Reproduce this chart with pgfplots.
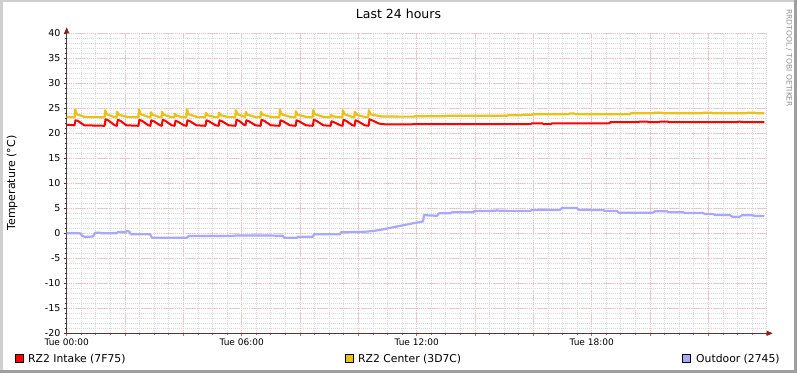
\documentclass[border=0pt]{standalone}
\usepackage{fontspec}
\setmainfont{DejaVu Sans}
\usepackage{pgfplots}
\pgfplotsset{compat=1.18}
\usetikzlibrary{arrows.meta}
\definecolor{rzred}{HTML}{FF0000}
\definecolor{rzyel}{HTML}{EAC117}
\definecolor{rzblue}{HTML}{A8A8FF}
\definecolor{mgrid}{HTML}{F2BABA}
\definecolor{mingrid}{HTML}{D9D9D9}
\definecolor{axiscol}{HTML}{4A3A3A}
\definecolor{arrowcol}{HTML}{8B1F1F}
\definecolor{shadea}{HTML}{CFCFCF}
\definecolor{shadeb}{HTML}{9F9F9F}
\begin{document}
\begin{tikzpicture}[x=1pt,y=1pt]
\useasboundingbox (0,0) rectangle (797,373);
\fill[white] (0,0) rectangle (797,373);
\fill[shadea] (0,0) rectangle (2.5,373);
\fill[shadea] (0,370.5) rectangle (797,373);
\fill[shadeb] (794,0) rectangle (797,373);
\fill[shadeb] (0,0) rectangle (797,3);
\begin{axis}[
  at={(66.7pt,39.7pt)}, anchor=south west,
  scale only axis, width=700pt, height=300pt,
  xmin=0, xmax=24, ymin=-20, ymax=40,
  axis lines=left,
  x axis line style={draw=axiscol, line width=0.8pt, -{Triangle[length=6pt,width=5pt,color=arrowcol]}, shorten >=-6pt},
  y axis line style={draw=axiscol, line width=0.8pt, -{Triangle[length=6pt,width=5pt,color=arrowcol]}, shorten >=-6pt},
  xtick={0,2,...,22},
  xticklabels={Tue 00:00,,,Tue 06:00,,,Tue 12:00,,,Tue 18:00,,},
  minor xtick={0,0.5,...,24},
  ytick={-20,-15,...,40},
  minor ytick={-20,-19,...,40},
  grid=both,
  major grid style={draw=mgrid, dash pattern=on 1pt off 1.2pt, line width=0.8pt},
  minor grid style={draw=mingrid, dash pattern=on 1pt off 1pt, line width=0.8pt},
  tick align=outside,
  major tick length=3pt, minor tick length=2pt,
  x tick style={draw=red!70, line width=0.8pt},
  y tick style={draw=axiscol, line width=0.8pt},
  minor tick style={draw=gray!60, line width=0.6pt},
  /pgf/number format/assume math mode=true,
  yticklabel style={font=\fontsize{9.5}{10}\selectfont, inner sep=0pt, xshift=-3pt},
  xticklabel style={font=\fontsize{9}{10}\selectfont, inner sep=0pt, yshift=-2pt},
  clip=false,
]
% RZ2 Intake
\addplot[rzred, line width=2pt, line join=round] coordinates {
(0.00,21.7)(0.27,21.6)(0.30,22.6)(0.38,22.5)(0.60,21.6)(1.30,21.5)
(1.33,22.8)(1.42,22.6)(1.65,21.6)(1.72,21.5)
(1.75,22.7)(1.84,22.5)(2.05,21.6)(2.46,21.5)
(2.49,22.7)(2.58,22.5)(2.80,21.6)(2.87,21.5)
(2.90,22.6)(2.99,22.4)(3.20,21.6)(3.26,21.5)
(3.29,22.7)(3.38,22.5)(3.60,21.6)(3.70,21.5)
(3.73,22.5)(3.82,22.3)(4.02,21.6)(4.11,21.5)
(4.14,22.6)(4.23,22.4)(4.45,21.6)(4.76,21.5)
(4.79,22.6)(4.88,22.4)(5.10,21.6)(5.21,21.5)
(5.24,22.6)(5.33,22.4)(5.55,21.6)(5.79,21.5)
(5.82,22.7)(5.91,22.5)(6.08,21.7)(6.13,21.6)
(6.16,22.6)(6.25,22.4)(6.47,21.6)(6.65,21.5)
(6.68,22.7)(6.77,22.5)(7.00,21.6)(7.30,21.5)
(7.33,22.6)(7.42,22.4)(7.65,21.6)(7.85,21.5)
(7.88,22.6)(7.97,22.4)(8.20,21.6)(8.44,21.5)
(8.47,22.7)(8.56,22.5)(8.80,21.6)(9.05,21.5)
(9.08,22.4)(9.17,22.2)(9.38,21.6)(9.46,21.5)
(9.49,22.7)(9.58,22.5)(9.80,21.6)(9.87,21.5)
(9.90,22.6)(9.99,22.4)(10.22,21.6)(10.35,21.5)
(10.38,22.8)(10.47,22.6)(10.70,21.95)(10.90,21.8)
(11.85,21.8)(11.90,21.85)(15.90,21.85)(15.95,22.0)(16.30,22.0)(16.35,21.85)(16.60,21.85)(16.65,22.0)
(18.60,22.0)(18.65,22.25)(19.60,22.25)(19.65,22.35)(19.90,22.35)(19.95,22.25)(20.30,22.25)(20.35,22.35)
(20.60,22.35)(20.65,22.25)(23.00,22.25)(23.05,22.35)(23.20,22.25)(23.92,22.25)
};
% RZ2 Center
\addplot[rzyel, line width=2.2pt, line join=round] coordinates {
(0.00,23.3)(0.27,23.2)(0.29,24.8)(0.35,23.8)(0.60,23.3)(1.30,23.2)
(1.32,24.6)(1.38,23.8)(1.60,23.3)(1.71,23.2)
(1.73,24.3)(1.79,23.7)(2.05,23.3)(2.46,23.2)
(2.48,24.8)(2.54,23.8)(2.80,23.3)(2.87,23.2)
(2.89,24.2)(2.95,23.7)(3.15,23.3)(3.25,23.2)
(3.27,24.3)(3.33,23.7)(3.55,23.3)(3.69,23.2)
(3.71,23.9)(3.77,23.5)(4.00,23.2)(4.10,23.2)
(4.12,24.8)(4.18,23.8)(4.45,23.3)(4.75,23.2)
(4.77,24.1)(4.83,23.6)(5.05,23.3)(5.20,23.2)
(5.22,24.1)(5.28,23.6)(5.50,23.3)(5.78,23.2)
(5.80,24.6)(5.86,23.8)(6.05,23.4)(6.12,23.3)
(6.14,24.3)(6.20,23.7)(6.45,23.3)(6.64,23.2)
(6.66,24.3)(6.72,23.7)(7.00,23.3)(7.29,23.2)
(7.31,24.7)(7.37,23.8)(7.65,23.3)(7.84,23.2)
(7.86,24.4)(7.92,23.7)(8.20,23.3)(8.43,23.2)
(8.45,24.6)(8.51,23.8)(8.80,23.3)(9.04,23.2)
(9.06,23.7)(9.12,23.4)(9.35,23.2)(9.45,23.2)
(9.47,24.6)(9.53,23.8)(9.78,23.3)(9.86,23.2)
(9.88,24.3)(9.94,23.7)(10.20,23.3)(10.34,23.2)
(10.36,24.6)(10.42,23.8)(10.80,23.35)
(11.90,23.33)(11.95,23.42)(13.00,23.42)(13.05,23.52)(15.10,23.52)(15.15,23.62)
(15.62,23.62)(15.64,23.72)(15.95,23.72)(16.00,23.82)(17.20,23.82)(17.25,23.95)(17.40,23.95)(17.45,23.82)
(19.30,23.82)(19.35,24.0)(20.10,24.0)(20.15,24.1)(20.40,24.1)(20.45,24.0)(21.80,24.0)(21.85,24.1)
(22.10,24.1)(22.15,24.0)(23.30,24.0)(23.35,24.1)(23.60,24.1)(23.65,24.0)(23.92,24.0)
};
% Outdoor
\addplot[rzblue, line width=2.2pt, line join=round] coordinates {
(0.00,0.0)(0.46,0.0)(0.53,-0.5)(0.63,-0.7)(0.90,-0.65)(0.97,0.1)(1.14,0.1)(1.21,0.0)
(1.72,0.0)(1.76,0.27)(2.03,0.27)(2.07,0.5)(2.14,0.35)(2.20,-0.2)(2.86,-0.2)(2.92,-0.87)
(4.12,-0.87)(4.19,-0.53)(5.70,-0.53)(5.77,-0.45)(6.97,-0.45)(7.41,-0.5)(7.45,-0.87)
(7.90,-0.87)(7.93,-0.67)(8.44,-0.67)(8.48,-0.2)(9.37,-0.2)(9.40,0.2)(10.20,0.3)
(10.50,0.45)(10.85,0.8)(11.19,1.2)(11.53,1.6)(11.87,2.0)(12.15,2.3)(12.22,2.4)(12.25,3.66)
(12.35,3.6)(12.70,3.5)(12.76,4.0)(13.14,4.0)(13.21,4.2)(13.93,4.2)(14.00,4.46)(14.70,4.5)
(14.75,4.6)(14.85,4.5)(15.88,4.46)(15.95,4.66)(16.91,4.66)(16.98,5.06)(17.49,5.06)(17.56,4.66)
(18.39,4.66)(18.45,4.46)(18.87,4.46)(18.93,4.13)(20.10,4.13)(20.17,4.4)(20.58,4.4)(20.65,4.2)
(21.13,4.2)(21.20,4.06)(21.82,4.06)(21.88,3.86)(22.16,3.86)(22.23,3.66)(22.74,3.66)(22.81,3.33)
(23.08,3.33)(23.15,3.6)(23.53,3.6)(23.60,3.46)(23.92,3.46)
};
\end{axis}
\node[font=\fontsize{12.5}{14}\selectfont] at (398.5,359.5) {Last 24 hours};
\node[rotate=90, font=\fontsize{11}{13}\selectfont] at (12,190) {Temperature (°C)};
\node[rotate=-90, anchor=west, inner sep=0pt, font=\fontsize{7.6}{9}\selectfont, text=gray!85] at (789,364) {RRDTOOL / TOBI OETIKER};
\filldraw[fill=rzred, draw=black, line width=0.8pt] (15.5,10.5) rectangle (23.5,18.5);
\node[anchor=base west, inner sep=0pt, font=\fontsize{10.8}{12}\selectfont] at (28,10.3) {RZ2 Intake (7F75)};
\filldraw[fill=rzyel, draw=black, line width=0.8pt] (345.5,10.5) rectangle (353.5,18.5);
\node[anchor=base west, inner sep=0pt, font=\fontsize{10.8}{12}\selectfont] at (358,10.3) {RZ2 Center (3D7C)};
\filldraw[fill=rzblue, draw=black, line width=0.8pt] (682.5,10.5) rectangle (690.5,18.5);
\node[anchor=base west, inner sep=0pt, font=\fontsize{10.8}{12}\selectfont] at (696,10.3) {Outdoor (2745)};
\end{tikzpicture}
\end{document}
